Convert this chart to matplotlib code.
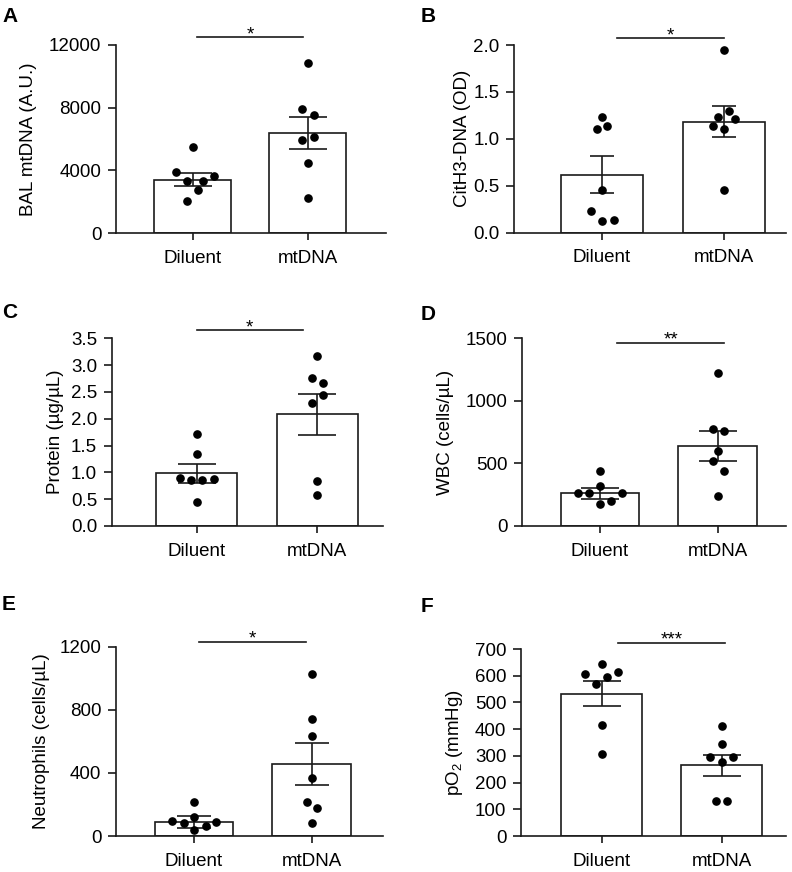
import numpy as np
import matplotlib
matplotlib.use('Agg')
from matplotlib import pyplot as plt
from matplotlib.ticker import FormatStrFormatter

plt.rcParams['font.family'] = ['Liberation Sans', 'DejaVu Sans']
plt.rcParams['mathtext.fontset'] = 'custom'
plt.rcParams['mathtext.rm'] = 'Liberation Sans'
plt.rcParams['mathtext.it'] = 'Liberation Sans:italic'
plt.rcParams['font.size'] = 13.5

groups = ['Diluent', 'mtDNA']

# A - BAL mtDNA
a_diluent = [5500, 3870, 3340, 3340, 3660, 2740, 2060]
a_mtdna = [10870, 7930, 7530, 5910, 6100, 4470, 2250]
a_mean = [3400, 6360]
a_sem = [400, 1030]

# B - CitH3-DNA
b_diluent = [1.23, 1.106, 1.14, 0.455, 0.235, 0.12, 0.13]
b_mtdna = [1.95, 1.30, 1.23, 1.21, 1.14, 1.10, 0.46]
b_mean = [0.62, 1.18]
b_sem = [0.195, 0.165]

# C - protein
c_diluent = [1.709, 1.349, 0.901, 0.858, 0.858, 0.870, 0.454]
c_mtdna = [3.176, 2.766, 2.66, 2.436, 2.287, 0.845, 0.572]
c_mean = [0.98, 2.08]
c_sem = [0.17, 0.376]

# D - WBC
d_diluent = [440, 322, 261, 261, 261, 176, 200]
d_mtdna = [1220, 778, 759, 597, 517, 437, 237]
d_mean = [261, 642]
d_sem = [42, 119]

# E - neutrophils
e_diluent = [214, 122, 95, 80, 91, 63, 38]
e_mtdna = [1025, 744, 634, 365, 218, 175, 85]
e_mean = [89, 458]
e_sem = [36, 132]

# F - pO2
f_diluent = [644, 605, 614, 595, 570, 414, 308]
f_mtdna = [413, 344, 294, 297, 278, 131, 131]
f_mean = [532, 265]
f_sem = [47, 40]

stars = ['*', '*', '*', '**', '*', '***']

# horizontal spread of the dots (x offsets)
jit = {
    'A': ([0, -0.147, -0.052, 0.092, 0.183, 0.05, -0.05], [0, -0.046, 0.058, -0.046, 0.058, 0, 0]),
    'B': ([0, -0.044, 0.044, 0, -0.09, 0, 0.096], [0, 0.041, -0.049, 0.093, -0.09, 0, 0]),
    'C': ([0, 0, -0.138, -0.05, 0.047, 0.144, 0], [0, -0.044, 0.047, 0.047, -0.044, 0, 0]),
    'D': ([0, 0, -0.184, -0.094, 0.19, 0, 0.096], [0, -0.043, 0.051, 0, -0.043, 0.051, 0]),
    'E': ([0, 0, -0.184, -0.085, 0.19, 0.1, 0], [0, 0, 0, 0, -0.043, 0.048, 0]),
    'F': ([0, -0.139, 0.133, 0.044, -0.047, 0, 0], [0, 0, -0.094, 0.097, 0, -0.047, 0.044]),
}

W, H = 792, 872
def rect(l, r, t, b):
    return [l / W, 1 - b / H, (r - l) / W, (b - t) / H]

panels = [
    dict(name='A', pts=(a_diluent, a_mtdna), mean=a_mean, sem=a_sem,
         box=rect(116, 386, 45, 233), xlim=(-0.665, 1.68), ylim=(0, 12000),
         yticks=[0, 4000, 8000, 12000], fmt=None, ylabel='BAL mtDNA (A.U.)', lx=-0.325,
         bar=(0.035, 0.962, 12500), cap=13.5, letter=(2, 22.3)),
    dict(name='B', pts=(b_diluent, b_mtdna), mean=b_mean, sem=b_sem,
         box=rect(514.3, 786, 45, 232.7), xlim=(-0.72, 1.51), ylim=(0, 2.0),
         yticks=[0, 0.5, 1.0, 1.5, 2.0], fmt='%.1f', ylabel='CitH3-DNA (OD)', lx=-0.19,
         bar=(0.123, 1.005, 2.07), cap=8.5, letter=(421, 22.3)),
    dict(name='C', pts=(c_diluent, c_mtdna), mean=c_mean, sem=c_sem,
         box=rect(111.7, 383.3, 338.3, 526), xlim=(-0.704, 1.546), ylim=(0, 3.5),
         yticks=[0, 0.5, 1.0, 1.5, 2.0, 2.5, 3.0, 3.5], fmt='%.1f', ylabel='Protein (µg/µL)', lx=-0.206,
         bar=(0.0, 0.88, 3.65), cap=13.5, letter=(2, 317.5)),
    dict(name='D', pts=(d_diluent, d_mtdna), mean=d_mean, sem=d_sem,
         box=rect(522, 786, 338.3, 526), xlim=(-0.663, 1.58), ylim=(0, 1500),
         yticks=[0, 500, 1000, 1500], fmt=None, ylabel='WBC (cells/µL)', lx=-0.288,
         bar=(0.145, 1.057, 1465), cap=13.5, letter=(421, 320)),
    dict(name='E', pts=(e_diluent, e_mtdna), mean=e_mean, sem=e_sem,
         box=rect(116, 383.3, 646.7, 836), xlim=(-0.664, 1.61), ylim=(0, 1200),
         yticks=[0, 400, 800, 1200], fmt=None, ylabel='Neutrophils (cells/µL)', lx=-0.28,
         bar=(0.043, 0.95, 1232), cap=12, letter=(2, 610)),
    dict(name='F', pts=(f_diluent, f_mtdna), mean=f_mean, sem=f_sem,
         box=rect(521, 786, 649, 836), xlim=(-0.672, 1.536), ylim=(0, 700),
         yticks=[0, 100, 200, 300, 400, 500, 600, 700], fmt=None, ylabel='pO$_2$ (mmHg)', lx=-0.252,
         bar=(0.138, 1.027, 724), cap=13.5, letter=(421, 611.7)),
]

ink = '#1a1a1a'
fig = plt.figure(figsize=(W / 100, H / 100), dpi=100)

for p, star in zip(panels, stars):
    ax = fig.add_axes(p['box'])
    x = np.arange(len(groups))
    ax.bar(x, p['mean'], width=0.67, color='white', edgecolor=ink, linewidth=1.2, zorder=1)
    ax.errorbar(x, p['mean'], yerr=p['sem'], fmt='none', ecolor=ink, elinewidth=1.2,
                capsize=p['cap'], capthick=1.2, zorder=2)
    for i, vals in enumerate(p['pts']):
        xs = i + np.array(jit[p['name']][i])
        ax.plot(xs, vals, 'o', color='black', markersize=5.2, zorder=3, clip_on=False)

    ax.set_xlim(*p['xlim'])
    ax.set_ylim(*p['ylim'])
    ax.set_xticks(x)
    ax.set_xticklabels(groups)
    ax.set_yticks(p['yticks'])
    if p['fmt']:
        ax.yaxis.set_major_formatter(FormatStrFormatter(p['fmt']))
    for s in ['top', 'right']:
        ax.spines[s].set_visible(False)
    for s in ['left', 'bottom']:
        ax.spines[s].set_linewidth(1.2)
        ax.spines[s].set_color(ink)
    ax.tick_params(axis='y', direction='out', length=6, width=1.2, color=ink, pad=4.5, labelsize=13.5)
    ax.tick_params(axis='x', direction='out', length=5, width=1.2, color=ink, pad=7, labelsize=13.5)
    ax.set_ylabel(p['ylabel'], fontsize=13.5)
    ax.yaxis.label.set_va('center')
    ax.yaxis.set_label_coords(p['lx'], 0.5)

    x0, x1, yb = p['bar']
    ax.plot([x0, x1], [yb, yb], color=ink, linewidth=1.2, clip_on=False)
    ax.annotate(star, xy=((x0 + x1) / 2, yb), xytext=(0, -1.5), textcoords='offset points',
                ha='center', va='baseline', fontsize=13.5, annotation_clip=False)

    lx, ly = p['letter']
    fig.text(lx / W, 1 - ly / H, p['name'], fontsize=15, fontweight='bold',
             ha='left', va='baseline')

fig.savefig('out.png', dpi=100)
